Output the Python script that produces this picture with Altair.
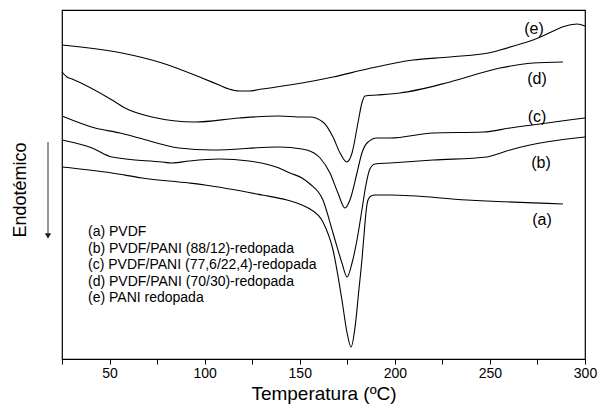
import altair as alt
import pandas as pd

# ---- data (temperature in degC, heat flow in arbitrary units) ----
temp_a = [25.0, 51.3, 67.1, 91.8, 100.2, 130.2, 143.3, 151.2, 155.4, 162.2, 167.5, 172.2, 174.9, 177.0,
          179.1, 181.1, 182.7, 183.8, 184.8, 185.9, 187.5, 189.6, 197.5, 238.0, 288.4]
flow_a = [192, 186, 181, 176, 174, 164, 159, 154, 150, 137, 109, 59, 26, 12,
          32, 69, 99, 124, 146, 159, 163, 164, 164, 159, 155]

temp_b = [25.0, 40.8, 51.3, 77.6, 82.8, 91.8, 107.6, 123.3, 139.1, 144.9, 151.2, 155.4, 162.2, 167.5,
          172.2, 174.9, 177.5, 180.1, 182.7, 184.8, 186.9, 189.6, 197.5, 220.1, 248.5, 254.0, 260.6, 300.0]
flow_b = [219, 211, 202, 197, 196, 198, 200, 198, 191, 186, 181, 175, 159, 126,
          96, 82, 96, 119, 149, 174, 190, 195, 196, 199, 202, 205, 209, 222]

temp_c = [25.0, 42.4, 55.5, 65.5, 86.5, 103.9, 139.1, 151.2, 153.8, 160.7, 165.9, 170.1, 173.8, 176.4,
          180.1, 182.7, 185.4, 190.6, 197.5, 220.1, 246.4, 260.6, 300.0]
flow_c = [243, 231, 226, 221, 211, 209, 212, 210, 209, 201, 186, 166, 151, 159,
          186, 206, 216, 221, 221, 226, 227, 231, 241]

temp_d = [25.0, 27.6, 30.3, 51.3, 58.1, 72.3, 94.9, 118.1, 139.1, 151.2, 155.4, 162.2, 167.5, 171.2,
          174.7, 177.5, 180.6, 182.7, 184.3, 190.6, 197.5, 202.7, 229.0, 255.3, 272.7, 288.4]
flow_d = [287, 282, 280, 259, 251, 242, 237, 241, 243, 242, 242, 237, 222, 206,
          197, 206, 236, 256, 263, 264, 265, 266, 277, 291, 296, 297]

temp_e = [25.0, 56.5, 77.6, 98.6, 107.6, 112.8, 118.1, 123.3, 130.2, 151.2, 167.5, 185.4, 209.6, 229.0,
          251.6, 255.3, 272.7, 295.8, 300.0]
flow_e = [314, 306, 296, 281, 274, 270, 268, 268, 270, 276, 282, 290, 299, 302,
          307, 309, 319, 335, 333]

series_ids = ["(a)", "(b)", "(c)", "(d)", "(e)"]
legend_lines = ["(a) PVDF",
                "(b) PVDF/PANI (88/12)-redopada",
                "(c) PVDF/PANI (77,6/22,4)-redopada",
                "(d) PVDF/PANI (70/30)-redopada",
                "(e) PANI redopada"]
label_temp = [277.4, 276.9, 274.8, 274.8, 273.2]
label_flow = [139, 196, 242, 280, 330]

x_ticks = [25, 50, 75, 100, 125, 150, 175, 200, 225, 250, 275, 300]

# ---- build tables ----
temps = [temp_a, temp_b, temp_c, temp_d, temp_e]
flows = [flow_a, flow_b, flow_c, flow_d, flow_e]
rows = []
for sid, ts, fs in zip(series_ids, temps, flows):
    for t, f in zip(ts, fs):
        rows.append({"serie": sid, "T": t, "F": f})
curves = pd.DataFrame(rows)

labels = pd.DataFrame({"txt": series_ids, "T": label_temp, "F": label_flow})
legend = pd.DataFrame({"txt": legend_lines, "i": list(range(len(legend_lines)))})

FONT = "Liberation Sans"
W, H = 523, 349

xs = alt.Scale(domain=[25, 300], nice=False, zero=False)
ys = alt.Scale(domain=[0, 349], nice=False, zero=False)

lines = alt.Chart(curves).mark_line(color="black", strokeWidth=1.1, interpolate="monotone").encode(
    x=alt.X("T:Q", scale=xs, axis=alt.Axis(
        title="Temperatura (ºC)", values=x_ticks,
        labelExpr="datum.value % 50 == 0 ? datum.label : ''",
        tickSize=5, tickColor="black", domainColor="black", labelColor="black",
        labelFont=FONT, labelFontSize=14, titleFont=FONT, titleFontSize=19,
        titleFontWeight="normal", titleColor="black", titlePadding=4, grid=False,
        labelFlush=False)),
    y=alt.Y("F:Q", scale=ys, axis=None),
    detail="serie:N",
    order="T:Q",
)

curve_labels = alt.Chart(labels).mark_text(font=FONT, fontSize=16, color="black").encode(
    x=alt.X("T:Q", scale=xs), y=alt.Y("F:Q", scale=ys), text="txt:N")

legend_text = alt.Chart(legend).transform_calculate(
    py="222 + 16.5 * datum.i"
).mark_text(font=FONT, fontSize=14, color="black", align="left", baseline="middle").encode(
    x=alt.value(26), y=alt.Y("py:Q", scale=None), text="txt:N")

ylab = alt.Chart(pd.DataFrame({"t": ["Endotémico"]})).mark_text(
    font=FONT, fontSize=18, color="black", angle=270, baseline="middle", align="center").encode(
    x=alt.value(-41), y=alt.value(180), text="t:N")

arrow_line = alt.Chart(pd.DataFrame({"t": [0]})).mark_rule(color="#333", strokeWidth=1).encode(
    x=alt.value(-14), y=alt.value(132), y2=alt.value(224))
arrow_head = alt.Chart(pd.DataFrame({"t": [0]})).mark_point(
    shape="triangle-down", filled=True, color="#222", size=40, opacity=1).encode(
    x=alt.value(-14), y=alt.value(226))

chart = alt.layer(lines, curve_labels, legend_text, ylab, arrow_line, arrow_head).properties(
    width=W, height=H,
    autosize=alt.AutoSizeParams(type="none"),
    padding={"left": 62, "top": 10, "right": 13, "bottom": 57},
    background="white",
).configure_view(stroke="black", strokeWidth=1.2)

chart.save("out.html", embed_options={"renderer": "svg", "actions": False})
